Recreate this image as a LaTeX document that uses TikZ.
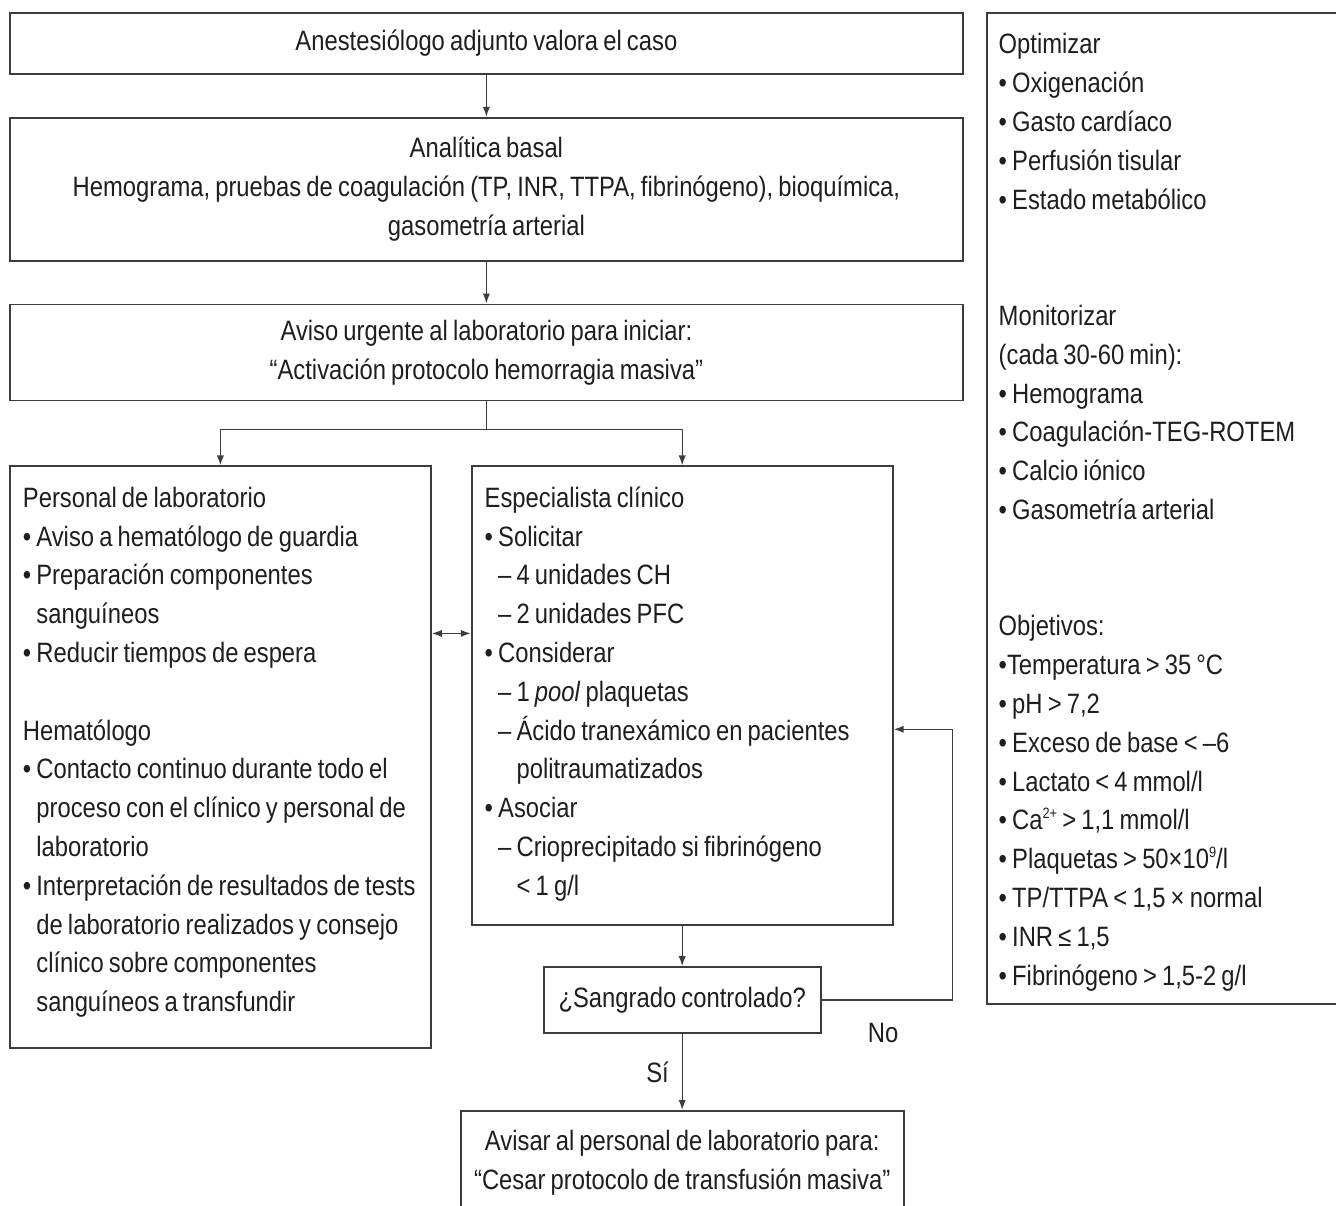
\documentclass[tikz,border=0pt]{standalone}
\usepackage{fontspec}
\setmainfont{Liberation Sans}[FakeStretch=0.85,WordSpace=0.78]
\usetikzlibrary{positioning, arrows.meta, calc}
\definecolor{ink}{HTML}{1E1E1E}
\definecolor{rule}{HTML}{3C3C3C}
\newcommand{\gap}{\phantom{•\ }}
\newcommand{\dgap}{\phantom{–\ }}
\newcommand{\sups}[1]{\raisebox{0.75ex}{\fontsize{7.5}{8}\selectfont #1}}
\hyphenpenalty=10000

\begin{document}
\begin{tikzpicture}[
  font=\fontsize{14}{19.4}\selectfont, text=ink,
  box/.style={draw=rule,line width=0.9pt,align=center,inner sep=4pt},
  panel/.style={draw=rule,line width=0.9pt,align=flush left,
                inner xsep=6.5pt,inner ysep=6pt,text height=14.5pt},
  link/.style={draw=rule,line width=0.7pt,-{Latex[length=5pt,width=3.6pt]}},
  >={Latex[length=5pt,width=3.6pt]}]
  \useasboundingbox (0,0) rectangle (668pt,-602.5pt);
  % main column
  \node[box, anchor=north west, minimum width=476.5pt, minimum height=30.5pt] (valora) at (4.5pt,-6pt) {Anestesiólogo adjunto valora el caso};
  \node[box, below=21pt of valora, minimum width=476.5pt, minimum height=71.5pt] (basal) {Analítica basal\\Hemograma, pruebas de coagulación (TP, INR, TTPA, fibrinógeno), bioquímica,\\gasometría arterial};
  \node[box, below=21pt of basal, minimum width=476.5pt, minimum height=48pt] (aviso) {Aviso urgente al laboratorio para iniciar:\\“Activación protocolo hemorragia masiva”};
  % the two teams
  \node[panel, below=32pt of aviso.south west, anchor=north west, text width=197.5pt, text depth=264.5pt] (labor) {Personal de laboratorio\\
    • Aviso a hematólogo de guardia\\
    • Preparación componentes\\
    \gap sanguíneos\\
    • Reducir tiempos de espera\\[19.4pt]
    Hematólogo\\
    • Contacto continuo durante todo el\\
    \gap proceso con el clínico y personal de\\
    \gap laboratorio\\
    • Interpretación de resultados de tests\\
    \gap de laboratorio realizados y consejo\\
    \gap clínico sobre componentes\\
    \gap sanguíneos a transfundir};
  \node[panel, right=19.5pt of labor.north east, anchor=north west, text width=197.5pt, text depth=203pt] (clinico) {Especialista clínico\\
    • Solicitar\\
    \gap – 4 unidades CH\\
    \gap – 2 unidades PFC\\
    • Considerar\\
    \gap – 1 \textit{pool} plaquetas\\
    \gap – Ácido tranexámico en pacientes\\
    \gap\dgap politraumatizados\\
    • Asociar\\
    \gap – Crioprecipitado si fibrinógeno\\
    \gap\dgap < 1 g/l};
  \node[box, below=20pt of clinico, minimum width=138.5pt, minimum height=33pt] (sangrado) {¿Sangrado controlado?};
  \node[box, below=38pt of sangrado, minimum width=221.5pt, minimum height=52pt] (cesar) {Avisar al personal de laboratorio para:\\“Cesar protocolo de transfusión masiva”};
  % side column
  \node[panel, right=11pt of valora.north east, anchor=north west, inner xsep=6pt, text width=176pt, text depth=469pt] (metas) {Optimizar\\
    • Oxigenación\\
    • Gasto cardíaco\\
    • Perfusión tisular\\
    • Estado metabólico\\[38.8pt]
    Monitorizar\\
    (cada 30-60 min):\\
    • Hemograma\\
    • Coagulación-TEG-ROTEM\\
    • Calcio iónico\\
    • Gasometría arterial\\[38.8pt]
    Objetivos:\\
    •Temperatura > 35 °C\\
    • pH > 7,2\\
    • Exceso de base < –6\\
    • Lactato < 4 mmol/l\\
    • Ca\sups{2+} > 1,1 mmol/l\\
    • Plaquetas > 50×10\sups{9}/l\\
    • TP/TTPA < 1,5 × normal\\
    • INR ≤ 1,5\\
    • Fibrinógeno > 1,5-2 g/l};
  % connectors
  \draw[link] (valora) -- (basal);
  \draw[link] (basal) -- (aviso);
  \coordinate (rama) at ($(aviso.south)+(0,-14pt)$);
  \draw[draw=rule,line width=0.7pt] (aviso.south) -- (rama);
  \draw[link] (rama) -| (labor.north);
  \draw[link] (rama) -| (clinico.north);
  \draw[link,<->] ([yshift=-84pt]labor.north east) -- ([yshift=-84pt]clinico.north west);
  \draw[link] (clinico) -- (sangrado);
  \coordinate (vuelta) at ($(sangrado.east)+(65.5pt,0)$);
  \draw[link] (sangrado.east) -- node[pos=0.47,yshift=-16.5pt]{No} (vuelta) |- ([yshift=-16.75pt]clinico.east);
  \draw[link] (sangrado) -- node[left=3pt]{Sí} (cesar);
\end{tikzpicture}
\end{document}
